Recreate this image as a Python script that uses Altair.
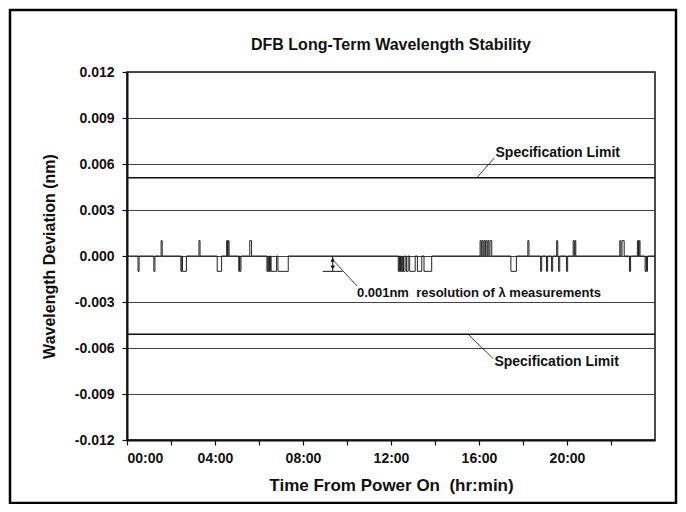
import altair as alt
import pandas as pd

# ---- data (hours from power on, deviation in nm) ----
seg_start = [0.50, 1.22, 1.55, 2.45, 2.52, 3.27, 4.10, 4.53, 4.60, 5.08, 5.13, 5.58,
             6.36, 6.42, 6.48, 6.55, 6.86,
             12.33, 12.39, 12.45, 12.51, 12.57, 12.70, 12.85, 13.20, 13.50,
             16.05, 16.13, 16.22, 16.30, 16.40, 16.50,
             17.45, 18.22, 18.80, 19.07, 19.30, 19.53, 19.62, 19.98, 20.28, 20.36,
             22.40, 22.50, 22.84, 23.20, 23.28, 23.55, 23.62]
seg_end = [0.55, 1.27, 1.60, 2.49, 2.70, 3.32, 4.30, 4.57, 4.64, 5.11, 5.18, 5.66,
           6.40, 6.46, 6.52, 6.80, 7.33,
           12.37, 12.43, 12.49, 12.55, 12.64, 12.78, 13.10, 13.40, 13.85,
           16.10, 16.18, 16.27, 16.36, 16.45, 16.58,
           17.70, 18.27, 18.85, 19.12, 19.35, 19.58, 19.67, 20.03, 20.33, 20.40,
           22.45, 22.60, 22.89, 23.25, 23.32, 23.60, 23.66]
seg_value = [-0.001, -0.001, 0.001, -0.001, -0.001, 0.001, -0.001, 0.001, 0.001, -0.001, -0.001, 0.001,
             -0.001, -0.001, -0.001, -0.001, -0.001,
             -0.001, -0.001, -0.001, -0.001, -0.001, -0.001, -0.001, -0.001, -0.001,
             0.001, 0.001, 0.001, 0.001, 0.001, 0.001,
             -0.001, 0.001, -0.001, -0.001, -0.001, 0.001, -0.001, -0.001, 0.001, 0.001,
             0.001, 0.001, -0.001, 0.001, 0.001, -0.001, -0.001]

spec_limit = [0.0051, -0.0051]
y_ticks = [-0.012, -0.009, -0.006, -0.003, 0.0, 0.003, 0.006, 0.009, 0.012]
x_ticks = list(range(0, 24))
title_text = "DFB Long-Term Wavelength Stability"

# build step series
t, v = [0.0], [0.0]
for s, e, val in zip(seg_start, seg_end, seg_value):
    t += [s, e]
    v += [val, 0.0]
t.append(24.0)
v.append(0.0)
df = pd.DataFrame({"t": t, "v": v})

FONT = "Liberation Sans"
xs = alt.Scale(domain=[0, 24], nice=False, zero=False)
ys = alt.Scale(domain=[-0.012, 0.012], nice=False)

x_axis = alt.Axis(values=x_ticks, grid=False, tickSize=5, labelPadding=6,
                  labelExpr="datum.value % 4 == 0 ? ((datum.value < 10 ? '0' : '') + datum.value + ':00') : ''",
                  title="Time From Power On\u00a0 (hr:min)", titlePadding=12, titleFontSize=17)
y_axis = alt.Axis(values=y_ticks, grid=True, tickSize=5, labelPadding=8,
                  labelExpr="replace(format(datum.value, '.3f'), '\u2212', '-')",
                  title="Wavelength Deviation (nm)", titlePadding=17, titleFontSize=16)

base = alt.Chart(df).mark_line(interpolate="step-after", color="#222222", strokeWidth=1).encode(
    x=alt.X("t:Q", scale=xs, axis=x_axis),
    y=alt.Y("v:Q", scale=ys, axis=y_axis),
)

spec = alt.Chart(pd.DataFrame({"y": spec_limit})).mark_rule(color="#111111", strokeWidth=1.5).encode(
    y=alt.Y("y:Q", scale=ys)
)

# annotations
spec_text = alt.Chart(pd.DataFrame({
    "x": [16.75, 16.7], "y": [0.0067, -0.0069], "label": ["Specification Limit", "Specification Limit"]
})).mark_text(align="left", baseline="middle", font=FONT, fontWeight="bold", fontSize=14, color="#111").encode(
    x=alt.X("x:Q", scale=xs), y=alt.Y("y:Q", scale=ys), text="label:N")

leaders = pd.DataFrame({
    "x": [15.9, 16.7, 15.5, 16.65, 9.45, 10.45],
    "y": [0.0051, 0.0064, -0.0051, -0.0067, -0.0004, -0.00195],
    "g": ["a", "a", "b", "b", "c", "c"],
})
leader_lines = alt.Chart(leaders).mark_line(color="#111", strokeWidth=0.8).encode(
    x=alt.X("x:Q", scale=xs), y=alt.Y("y:Q", scale=ys), detail="g:N")

res_text = alt.Chart(pd.DataFrame({"x": [10.45], "y": [-0.0024],
                                   "label": ["0.001nm\u00a0 resolution of \u03bb measurements"]})).mark_text(
    align="left", baseline="middle", font=FONT, fontWeight="bold", fontSize=13, color="#111").encode(
    x=alt.X("x:Q", scale=xs), y=alt.Y("y:Q", scale=ys), text="label:N")

arrow_df = pd.DataFrame({"x": [9.35], "y": [0.0], "y2": [-0.001], "x1": [8.9], "x2": [9.8]})
arrow_shaft = alt.Chart(arrow_df).mark_rule(color="#111", strokeWidth=1).encode(
    x=alt.X("x:Q", scale=xs), y=alt.Y("y:Q", scale=ys), y2="y2:Q")
arrow_bar = alt.Chart(arrow_df).mark_rule(color="#111", strokeWidth=1).encode(
    x=alt.X("x1:Q", scale=xs), x2="x2:Q", y=alt.Y("y2:Q", scale=ys))
heads = alt.Chart(pd.DataFrame({"x": [9.35, 9.35], "y": [-0.00025, -0.00075],
                                "s": ["triangle-up", "triangle-down"]})).mark_point(
    filled=True, color="#111", size=22, opacity=1).encode(
    x=alt.X("x:Q", scale=xs), y=alt.Y("y:Q", scale=ys),
    shape=alt.Shape("s:N", scale=None))

title_mark = alt.Chart(pd.DataFrame({"label": [title_text]})).mark_text(
    font=FONT, fontSize=16, fontWeight="bold", color="#111", align="center", baseline="middle").encode(
    x=alt.value(264), y=alt.value(-27), text="label:N")

frame = alt.Chart(pd.DataFrame({"a": [0]})).mark_rect(
    fill=None, stroke="#000", strokeWidth=2.5).encode(
    x=alt.value(-117), x2=alt.value(549), y=alt.value(-62), y2=alt.value(431))

chart = alt.layer(
    spec, base, leader_lines, spec_text, arrow_shaft, arrow_bar, heads, res_text, title_mark, frame
).properties(
    width=528, height=368,
    background="white",
    padding={"left": 119, "top": 64, "right": 23, "bottom": 64},
    autosize=alt.AutoSizeParams(type="none"),
).configure_view(
    stroke="#111", strokeWidth=1.5
).configure_axis(
    labelFont=FONT, labelFontSize=14, labelFontWeight="bold", labelColor="#111",
    titleFont=FONT, titleFontWeight="bold", titleColor="#111",
    domainColor="#111", domainWidth=2, tickColor="#111", tickWidth=1.2,
    gridColor="#444", gridWidth=1,
)

chart.save("out.html", embed_options={"renderer": "svg", "actions": False})
